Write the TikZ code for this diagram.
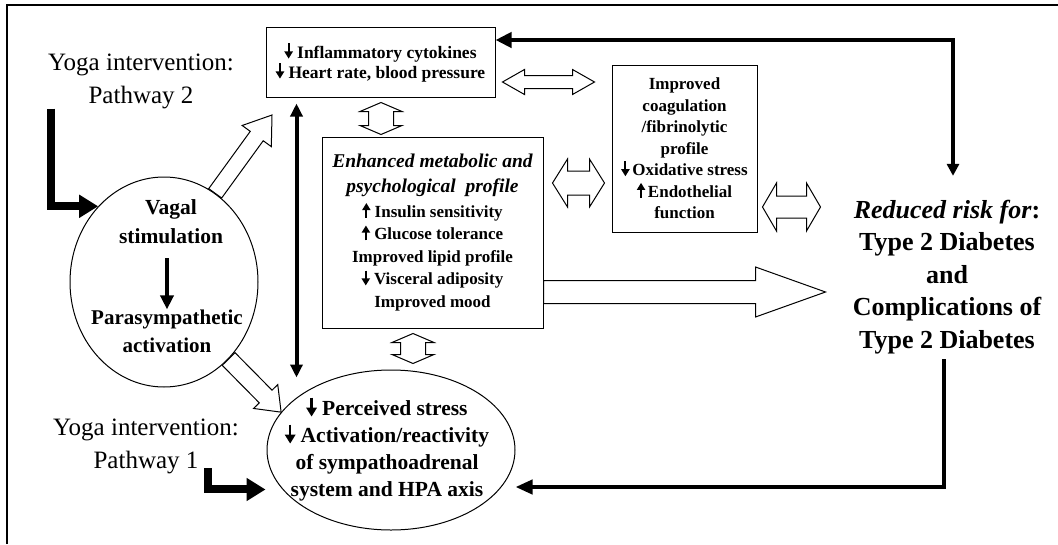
\documentclass[tikz,border=0pt]{standalone}
\usepackage{fontspec}
\setmainfont{Liberation Serif}
\usetikzlibrary{shapes.geometric, arrows.meta, calc}

% small solid arrows inside the text
\newcommand{\arrdown}{\tikz[baseline=0pt]\draw[line width=0.12em,-{Triangle[length=0.42em,width=0.48em]}] (0pt,0.85em) -- (0pt,-0.03em);}
\newcommand{\arrup}{\tikz[baseline=0pt]\draw[line width=0.12em,-{Triangle[length=0.42em,width=0.48em]}] (0pt,-0.03em) -- (0pt,0.85em);}

% hollow block arrows: from, to, shaft half width, head half width, head length
\newcommand{\hollowarrow}[5]{%
  \coordinate (hb) at ($(#2)!#5!(#1)$);
  \draw[hollow] ($(#1)!#3!90:(#2)$) -- ($(hb)!#3!-90:(#1)$) -- ($(hb)!#4!-90:(#1)$) -- (#2)
    -- ($(hb)!#4!90:(#1)$) -- ($(hb)!#3!90:(#1)$) -- ($(#1)!#3!-90:(#2)$) -- cycle;}
\newcommand{\hollowdarrow}[5]{%
  \coordinate (hbA) at ($(#1)!#5!(#2)$);
  \coordinate (hbB) at ($(#2)!#5!(#1)$);
  \draw[hollow] (#1) -- ($(hbA)!#4!90:(#2)$) -- ($(hbA)!#3!90:(#2)$) -- ($(hbB)!#3!-90:(#1)$)
    -- ($(hbB)!#4!-90:(#1)$) -- (#2) -- ($(hbB)!#4!90:(#1)$) -- ($(hbB)!#3!90:(#1)$)
    -- ($(hbA)!#3!-90:(#2)$) -- ($(hbA)!#4!-90:(#2)$) -- cycle;}

\tikzset{
    box/.style={draw, line width=1pt, inner sep=0pt, align=center},
    oval/.style={draw, ellipse, line width=1pt, inner sep=0pt},
    lbl/.style={align=center, inner sep=0pt},
    hollow/.style={draw, line width=1pt, fill=white, line join=miter},
    thickarr/.style={line width=4pt, -{Triangle[length=14pt,width=13pt]}},
    patharr/.style={line width=8pt, -{Triangle[length=19pt,width=22pt]}},
}

\begin{document}
\begin{tikzpicture}[x=1pt, y=-1pt]
\useasboundingbox (0,0) rectangle (1058,544);
\draw[line width=2pt] (7,544) -- (7,5) -- (1058,5);

% labels of the two pathways
\node[lbl, font=\fontsize{25}{33}\selectfont] (yoga2) at (141,81) {Yoga intervention:\\Pathway 2};
\node[lbl, font=\fontsize{25}{33}\selectfont] (yoga1) at (146,446) {Yoga intervention:\\Pathway 1};

% boxes
\node[box, minimum width=229pt, minimum height=70pt, font=\fontsize{17.5}{20}\selectfont\bfseries] (inflam) at (380.5,62)
    {\arrdown\ Inflammatory cytokines\\\arrdown\ Heart rate, blood pressure};
\node[box, minimum width=221pt, minimum height=191pt, font=\fontsize{17}{22.5}\selectfont\bfseries] (enh) at (432.5,232.5)
    {{\fontsize{19.5}{25}\selectfont\itshape Enhanced metabolic and}\\[2.5pt]
     {\fontsize{19.5}{25}\selectfont\itshape psychological\ \ profile}\\[2.5pt]
     \arrup\ Insulin sensitivity\\\arrup\ Glucose tolerance\\
     Improved lipid profile\\\arrdown\ Visceral adiposity\\Improved mood};
\node[box, minimum width=145pt, minimum height=167pt, font=\fontsize{17}{21.5}\selectfont\bfseries] (coag) at (684.5,148.5)
    {Improved\\coagulation\\/fibrinolytic\\profile\\\arrdown\,Oxidative stress\\\arrup\,Endothelial\\function};

% ellipses
\node[oval, minimum width=188pt, minimum height=210pt] (vagal) at (164,282) {};
\node[lbl, font=\fontsize{21.5}{29}\selectfont\bfseries] (vs) at (171,222) {Vagal\\stimulation};
\node[lbl, font=\fontsize{21}{28}\selectfont\bfseries] (pa) at (167,331) {Parasympathetic\\activation};
\node[oval, minimum width=248pt, minimum height=160pt] (stress) at (391,450) {};
\node[lbl, font=\fontsize{21.5}{27}\selectfont\bfseries] (stresstxt) at (387,449)
    {\arrdown\ Perceived stress\\\arrdown\ Activation/reactivity\\of sympathoadrenal\\system and HPA axis};

% outcome
\node[lbl, font=\fontsize{26}{32.5}\selectfont\bfseries] (risk) at (947,277)
    {\textit{Reduced risk for}:\\Type 2 Diabetes\\and\\Complications of\\Type 2 Diabetes};

% solid arrows
\draw[thickarr, shorten <=14pt] (vs.south -| pa.north) -- (pa.north);
\draw[line width=4pt, {Triangle[length=13pt,width=12pt]}-{Triangle[length=13pt,width=12pt]}]
    ([shift={(31,6)}]inflam.south west) -- ([shift={(31,280)}]inflam.south west);
\coordinate (tr) at (953,40);
\draw[line width=4pt, {Triangle[length=16pt,width=15pt]}-{Triangle[length=12pt,width=12pt]}, shorten >=24pt]
    (inflam.east |- tr) -- (tr) -- (tr |- risk.north);
\coordinate (br) at (944,487);
\draw[line width=4pt, -{Triangle[length=17pt,width=14pt]}, line join=miter, shorten <=5pt]
    (risk.south -| br) -- (br) -- (br -| stress.east);

% pathway arrows
\draw[patharr] ($(yoga2.south west)+(3,0)$) |- (vagal.131);
\coordinate (p1start) at (208,468);
\draw[patharr, shorten >=17pt] (p1start) |- (stress.200);

% hollow arrows
\coordinate (vagalup) at (272,115);
\hollowarrow{vagal.60}{vagalup}{8pt}{18pt}{26pt}
\hollowarrow{vagal.-50}{stress.161}{9pt}{17pt}{22pt}
\coordinate (tdl) at ($(inflam.east)+(7,20)$);
\coordinate (tdr) at ($(coag.west)+(-17,-66.5)$);
\hollowdarrow{tdl}{tdr}{6.5pt}{12.5pt}{22pt}
\coordinate (mdl) at ($(enh.east)+(9,-49.5)$);
\coordinate (mdr) at ($(coag.west)+(-7,34.5)$);
\hollowdarrow{mdl}{mdr}{12pt}{24pt}{15pt}
\coordinate (rdl) at ($(coag.east)+(5,58.5)$);
\coordinate (rdr) at ($(coag.east)+(63,58.5)$);
\hollowdarrow{rdl}{rdr}{11pt}{24pt}{14pt}
\coordinate (vtt) at ($(inflam.south)+(0.5,5)$);
\coordinate (vtb) at ($(enh.north)+(-51.5,-2)$);
\hollowdarrow{vtt}{vtb}{12.5pt}{21pt}{9pt}
\coordinate (vbt) at ($(enh.south)+(-19.5,5)$);
\coordinate (vbb) at ($(enh.south)+(-19.5,35)$);
\hollowdarrow{vbt}{vbb}{12.5pt}{21pt}{9pt}
\coordinate (bigs) at ($(enh.east)+(0,59.5)$);
\coordinate (bigt) at ($(enh.east)+(282,59.5)$);
\hollowarrow{bigs}{bigt}{11.5pt}{25pt}{70pt}
\end{tikzpicture}
\end{document}
